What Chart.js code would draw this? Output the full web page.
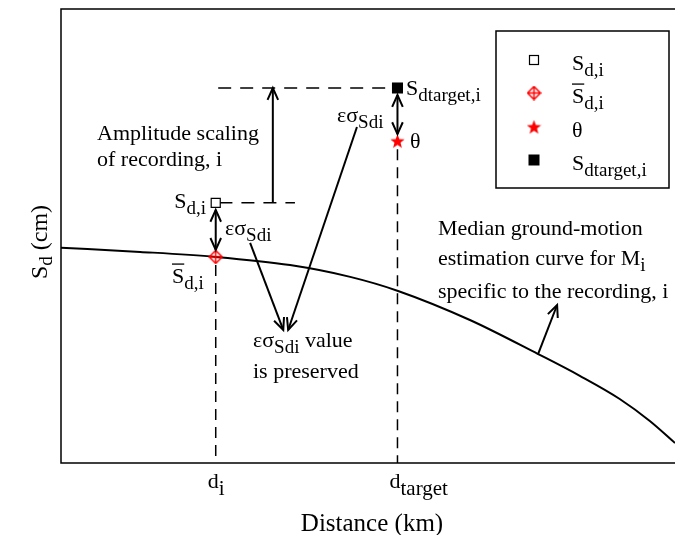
<!DOCTYPE html>
<html>
<head>
<meta charset="utf-8">
<script src="https://cdn.jsdelivr.net/npm/chart.js@4.4.1/dist/chart.umd.min.js"></script>
<style>
html,body{margin:0;padding:0;background:#fff;}
#wrap{width:675px;height:535px;}
</style>
</head>
<body>
<div id="wrap"><canvas id="c" width="675" height="535"></canvas></div>
<script>
// ---- data (schematic units, 0..100 on both axes) ----
const curveX = [0, 12.9, 25.2, 37.3, 47.1, 54.9, 66.6, 77.7, 84.5, 91.0, 95.9, 100];
const curveY = [47.4, 46.5, 45.4, 43.6, 41.0, 37.9, 31.5, 24.0, 19.2, 14.1, 9.25, 4.4];
const distTicks = [25.2, 54.8];           // d_i, d_target
const tickLabels = [['d', 'i'], ['d', 'target']];
const sdRecorded = [57.3];                // S_d,i at d_i
const sdMedian = [45.4];                  // S̄_d,i at d_i
const sdTheta = [70.9];                   // θ at d_target
const sdTargetVal = [82.6];               // S_dtarget,i at d_target

const dI = distTicks[0], dT = distTicks[1];
const FONT = '"Liberation Serif", "Times New Roman", serif';

function makeStar(size, color) {
  const c = document.createElement('canvas');
  c.width = size; c.height = size;
  const g = c.getContext('2d');
  const cx = size / 2, cy = size / 2 + size * 0.04, R = size / 2, r = R * 0.42;
  g.beginPath();
  for (let k = 0; k < 10; k++) {
    const a = -Math.PI / 2 + k * Math.PI / 5;
    const rr = k % 2 === 0 ? R : r;
    g.lineTo(cx + rr * Math.cos(a), cy + rr * Math.sin(a));
  }
  g.closePath();
  g.fillStyle = color; g.fill();
  return c;
}
function makeDiamondCross(size, color) {
  const c = document.createElement('canvas');
  c.width = size; c.height = size;
  const g = c.getContext('2d');
  const m = size / 2, R = size / 2 - 1;
  g.strokeStyle = color; g.lineWidth = 1.5;
  g.beginPath();
  g.moveTo(m, m - R); g.lineTo(m + R, m); g.lineTo(m, m + R); g.lineTo(m - R, m); g.closePath();
  g.moveTo(m, m - R); g.lineTo(m, m + R);
  g.moveTo(m - R, m); g.lineTo(m + R, m);
  g.stroke();
  return c;
}
const starImg = makeStar(15, '#ff0000');
const diaImg = makeDiamondCross(15, '#ff0000');

function rich(ctx, x, y, segs, align) {
  let w = 0;
  segs.forEach(s => { ctx.font = s.s + 'px ' + FONT; s.w = ctx.measureText(s.t).width; w += s.w; });
  let cx = x;
  if (align === 'right') cx = x - w;
  else if (align === 'center') cx = x - w / 2;
  ctx.textBaseline = 'alphabetic';
  ctx.textAlign = 'left';
  segs.forEach(s => {
    ctx.font = s.s + 'px ' + FONT;
    ctx.fillStyle = '#000';
    ctx.fillText(s.t, cx, y + (s.dy || 0));
    if (s.over) {
      ctx.save(); ctx.strokeStyle = '#000'; ctx.lineWidth = 1.3;
      ctx.beginPath(); ctx.moveTo(cx, y - s.s * 0.86); ctx.lineTo(cx + s.w, y - s.s * 0.86); ctx.stroke();
      ctx.restore();
    }
    cx += s.w;
  });
}
const M = 22, SB = 19, DY = 6;
const T = (t, o) => Object.assign({ t: t, s: M, dy: 0 }, o || {});
const Sub = (t) => ({ t: t, s: SB, dy: DY });

function arrowHead(ctx, x1, y1, x2, y2) {
  const a = Math.atan2(y2 - y1, x2 - x1), L = 13, h = 0.42;
  ctx.beginPath();
  ctx.moveTo(x2 - L * Math.cos(a - h), y2 - L * Math.sin(a - h));
  ctx.lineTo(x2, y2);
  ctx.lineTo(x2 - L * Math.cos(a + h), y2 - L * Math.sin(a + h));
  ctx.stroke();
}
function arrow(ctx, x1, y1, x2, y2, both) {
  ctx.beginPath(); ctx.moveTo(x1, y1); ctx.lineTo(x2, y2); ctx.stroke();
  arrowHead(ctx, x1, y1, x2, y2);
  if (both) arrowHead(ctx, x2, y2, x1, y1);
}

const annot = {
  id: 'annot',
  afterDatasetsDraw(chart) {
    const ctx = chart.ctx, a = chart.chartArea;
    const X = v => chart.scales.x.getPixelForValue(v);
    const Y = v => chart.scales.y.getPixelForValue(v);
    ctx.save();
    // frame: left, top, bottom
    ctx.strokeStyle = '#000'; ctx.lineWidth = 1.5;
    ctx.beginPath();
    ctx.moveTo(a.right + 1, a.top); ctx.lineTo(a.left, a.top); ctx.lineTo(a.left, a.bottom); ctx.lineTo(a.right + 1, a.bottom);
    ctx.stroke();

    // arrows
    ctx.lineWidth = 2; ctx.lineCap = 'butt';
    arrow(ctx, X(34.5), Y(sdRecorded[0]), X(34.5), Y(sdTargetVal[0]), false);
    arrow(ctx, X(dI), Y(sdRecorded[0]) + 7, X(dI), Y(sdMedian[0]) - 7, true);
    arrow(ctx, X(dT), Y(sdTargetVal[0]) + 7, X(dT), Y(sdTheta[0]) - 7, true);
    arrow(ctx, X(30.8), Y(48.5), X(36.2), Y(29.3), false);
    arrow(ctx, X(48.2), Y(74.0), X(37.0), Y(29.3), false);
    arrow(ctx, X(77.7), Y(24.0), X(80.8), Y(34.8), false);

    // text annotations
    rich(ctx, 97, 140, [T('Amplitude scaling')]);
    rich(ctx, 97, 166, [T('of recording, i')]);
    rich(ctx, 206, 208, [T('S'), Sub('d,i')], 'right');
    rich(ctx, 225, 235, [T('εσ'), Sub('Sdi')]);
    rich(ctx, 172, 283, [T('S', { over: true }), Sub('d,i')]);
    rich(ctx, 337, 122, [T('εσ'), Sub('Sdi')]);
    rich(ctx, 406, 95, [T('S'), Sub('dtarget,i')]);
    rich(ctx, 410, 148, [T('θ')]);
    rich(ctx, 253, 347, [T('εσ'), Sub('Sdi'), T(' value')]);
    rich(ctx, 253, 378, [T('is preserved')]);
    rich(ctx, 438, 235, [T('Median ground-motion')]);
    rich(ctx, 438, 265, [T('estimation curve for M'), Sub('i')]);
    rich(ctx, 438, 298, [T('specific to the recording, i')]);

    // tick labels
    distTicks.forEach((v, k) => {
      const lab = tickLabels[k];
      rich(ctx, X(v) - 8, 488, [T(lab[0]), { t: lab[1], s: 21, dy: 7 }]);
    });
    // axis titles
    rich(ctx, 372, 531, [{ t: 'Distance (km)', s: 25, dy: 0 }], 'center');
    ctx.save();
    ctx.translate(47, 242); ctx.rotate(-Math.PI / 2);
    rich(ctx, 0, 0, [{ t: 'S', s: 24, dy: 0 }, { t: 'd', s: 19, dy: 5 }, { t: ' (cm)', s: 24, dy: 0 }], 'center');
    ctx.restore();

    // legend
    ctx.fillStyle = '#fff'; ctx.strokeStyle = '#000'; ctx.lineWidth = 1.5;
    ctx.fillRect(496, 31, 173, 157); ctx.strokeRect(496, 31, 173, 157);
    const lx = 534, rows = [60, 93, 127, 160];
    ctx.lineWidth = 1.2;
    ctx.fillStyle = '#fff'; ctx.fillRect(lx - 4.5, rows[0] - 4.5, 9, 9); ctx.strokeRect(lx - 4.5, rows[0] - 4.5, 9, 9);
    ctx.drawImage(diaImg, lx - 7.5, rows[1] - 7.5);
    ctx.drawImage(starImg, lx - 7.5, rows[2] - 7.5);
    ctx.fillStyle = '#000'; ctx.fillRect(lx - 5.5, rows[3] - 5.5, 11, 11);
    rich(ctx, 572, 70, [T('S'), Sub('d,i')]);
    rich(ctx, 572, 103, [T('S', { over: true }), Sub('d,i')]);
    rich(ctx, 572, 137, [T('θ')]);
    rich(ctx, 572, 170, [T('S'), Sub('dtarget,i')]);
    ctx.restore();
  }
};

const dash = [13, 9];
new Chart(document.getElementById('c'), {
  type: 'scatter',
  data: {
    datasets: [
      { data: [{ x: dI, y: sdRecorded[0] }], pointStyle: 'rect', pointRadius: 6.4, backgroundColor: '#fff', borderColor: '#000', borderWidth: 1.2, order: 0 },
      { data: [{ x: dI, y: sdMedian[0] }], pointStyle: diaImg, order: 0 },
      { data: [{ x: dT, y: sdTheta[0] }], pointStyle: starImg, order: 0 },
      { data: [{ x: dT, y: sdTargetVal[0] }], pointStyle: 'rect', pointRadius: 7.8, backgroundColor: '#000', borderColor: '#000', borderWidth: 0, order: 0 },
      { data: curveX.map((x, k) => ({ x: x, y: curveY[k] })), showLine: true, pointRadius: 0, borderColor: '#000', borderWidth: 2, cubicInterpolationMode: 'monotone', order: 5 },
      { data: [{ x: dI + 0.6, y: sdRecorded[0] }, { x: 38.1, y: sdRecorded[0] }], showLine: true, pointRadius: 0, borderColor: '#000', borderWidth: 1.5, borderDash: dash, order: 5 },
      { data: [{ x: 25.6, y: sdTargetVal[0] }, { x: dT, y: sdTargetVal[0] }], showLine: true, pointRadius: 0, borderColor: '#000', borderWidth: 1.5, borderDash: dash, order: 5 },
      { data: [{ x: dI, y: sdMedian[0] - 1.8 }, { x: dI, y: 0 }], showLine: true, pointRadius: 0, borderColor: '#000', borderWidth: 1.5, borderDash: [11, 7], order: 5 },
      { data: [{ x: dT, y: sdTheta[0] - 1.8 }, { x: dT, y: 0 }], showLine: true, pointRadius: 0, borderColor: '#000', borderWidth: 1.5, borderDash: [11, 7], order: 5 }
    ]
  },
  options: {
    responsive: false,
    devicePixelRatio: 1,
    animation: false,
    layout: { autoPadding: false, padding: { left: 61, top: 9, right: 0, bottom: 72 } },
    plugins: { legend: { display: false }, tooltip: { enabled: false } },
    scales: {
      x: { type: 'linear', min: 0, max: 100, display: false },
      y: { type: 'linear', min: 0, max: 100, display: false }
    }
  },
  plugins: [annot]
});
</script>
</body>
</html>
